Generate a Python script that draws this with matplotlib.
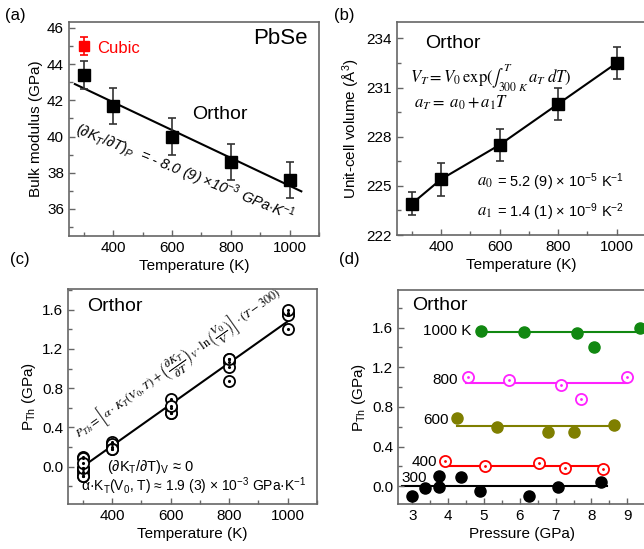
import matplotlib
matplotlib.use("Agg")
import matplotlib.pyplot as plt
from matplotlib.ticker import MultipleLocator

plt.rcParams['font.family'] = ['Liberation Sans', 'DejaVu Sans']
plt.rcParams['mathtext.fontset'] = 'custom'
plt.rcParams['mathtext.rm'] = 'Liberation Sans'
plt.rcParams['mathtext.it'] = 'Liberation Sans:italic'
plt.rcParams['mathtext.bf'] = 'Liberation Sans:bold'

# ---- data ----
temps = [300, 400, 600, 800, 1000]

# (a) bulk modulus
bulk = [43.4, 41.7, 40.0, 38.6, 37.6]
bulk_err = [0.8, 1.0, 1.0, 1.0, 1.0]
cubic_T = [300]
cubic_K = [45.0]
cubic_err = [0.5]
fit_a_T = [270, 1040]
fit_a_K = [42.9, 36.97]

# (b) unit-cell volume
volume = [223.9, 225.4, 227.5, 230.0, 232.5]
volume_err = [0.7, 1.0, 1.0, 1.0, 1.0]

# (d) thermal pressure vs pressure, per temperature
p300 = [3.0, 3.36, 3.75, 3.75, 4.37, 4.88, 6.25, 7.08, 8.27]
pth300 = [-0.10, -0.02, 0.10, -0.01, 0.09, -0.05, -0.10, -0.01, 0.04]
p400 = [3.92, 5.04, 6.53, 7.25, 8.32]
pth400 = [0.25, 0.20, 0.23, 0.185, 0.175]
p600 = [4.24, 5.37, 6.78, 7.50, 8.64]
pth600 = [0.69, 0.60, 0.55, 0.55, 0.615]
p800 = [4.55, 5.71, 7.16, 7.72, 9.0]
pth800 = [1.10, 1.07, 1.02, 0.875, 1.10]
p1000 = [4.91, 6.13, 7.61, 8.06, 9.35]
pth1000 = [1.565, 1.56, 1.55, 1.40, 1.60]

# horizontal average lines in (d): (x start, x end, level)
avg300 = (2.72, 8.44, 0.0)
avg400 = (3.85, 8.44, 0.205)
avg600 = (4.24, 8.64, 0.603)
avg800 = (4.50, 9.0, 1.044)
avg1000 = (4.91, 9.6, 1.556)

# (c) linear fit of P_Th vs T
fit_c_T = [300, 1000]
fit_c_P = [0.0, 1.48]

spine_col = '#666666'


def style_axes(ax):
    for s in ax.spines.values():
        s.set_color(spine_col)
        s.set_linewidth(1.2)
    ax.tick_params(which='both', direction='in', top=False, right=False,
                   color=spine_col, labelsize=11, width=1.0)
    ax.tick_params(which='major', length=4.5)
    ax.tick_params(which='minor', length=3)


fig = plt.figure(figsize=(6.44, 5.49), dpi=100)

# ---------- (a) ----------
ax = fig.add_axes([0.1071, 0.5701, 0.3882, 0.3898])
ax.plot(fit_a_T, fit_a_K, color='black', lw=1.5)
ax.errorbar(temps, bulk, yerr=bulk_err, fmt='s', color='black', ms=9,
            ecolor='#333333', elinewidth=1.2, capsize=3, capthick=1.2)
ax.errorbar(cubic_T, cubic_K, yerr=cubic_err, fmt='s', color='red', ms=7,
            ecolor='red', elinewidth=1.2, capsize=3, capthick=1.2)
ax.set_xlim(250, 1100)
ax.set_ylim(34.5, 46.33)
ax.xaxis.set_major_locator(MultipleLocator(200))
ax.xaxis.set_minor_locator(MultipleLocator(100))
ax.yaxis.set_major_locator(MultipleLocator(2))
ax.yaxis.set_minor_locator(MultipleLocator(1))
ax.set_xticks([400, 600, 800, 1000])
style_axes(ax)
ax.set_xlabel('Temperature (K)', fontsize=11, labelpad=3)
ax.set_ylabel('Bulk modulus (GPa)', fontsize=11, labelpad=3)
ax.text(345, 44.88, 'Cubic', color='red', fontsize=12, va='center')
ax.text(1060, 45.4, 'PbSe', fontsize=16, ha='right', va='center')
ax.text(762, 41.2, 'Orthor', fontsize=14, ha='center', va='center')
ax.text(268, 40.15, r'$(\partial K_T/\partial T)_P$  = - 8.0 (9) $\times$10$^{-3}$ GPa$\cdot$K$^{-1}$',
        fontsize=10.5, style='italic', rotation=-22, rotation_mode='anchor',
        ha='left', va='baseline')
fig.text(0.008, 0.972, '(a)', fontsize=12, va='center')

# ---------- (b) ----------
ax = fig.add_axes([0.6165, 0.5719, 0.3866, 0.388])
ax.errorbar(temps, volume, yerr=volume_err, fmt='s-', color='black', ms=9,
            lw=1.5, ecolor='#333333', elinewidth=1.2, capsize=3, capthick=1.2)
ax.set_xlim(250, 1100)
ax.set_ylim(222, 235)
ax.set_xticks([400, 600, 800, 1000])
ax.xaxis.set_minor_locator(MultipleLocator(100))
ax.yaxis.set_major_locator(MultipleLocator(3))
ax.yaxis.set_minor_locator(MultipleLocator(1.5))
style_axes(ax)
ax.set_xlabel('Temperature (K)', fontsize=11, labelpad=3)
ax.set_ylabel('Unit-cell volume (Å$^3$)', fontsize=11, labelpad=3)
ax.text(345, 233.7, 'Orthor', fontsize=14, va='center')
ax.text(294, 231.6, r'$V_T = V_0\,\exp(\int_{300\ K}^{T}\, a_T\; dT)$',
        fontsize=12, va='center', math_fontfamily='stix')
ax.text(308, 230.1, r'$a_T =\ a_0 + a_1T$', fontsize=12, va='center',
        math_fontfamily='stix')
ax.text(522, 225.2, r'$a_0$', fontsize=12, va='center', math_fontfamily='stix')
ax.text(592, 225.2, r'= 5.2 (9) $\times$ 10$^{-5}$ K$^{-1}$', fontsize=10.5, va='center')
ax.text(522, 223.4, r'$a_1$', fontsize=12, va='center', math_fontfamily='stix')
ax.text(592, 223.4, r'= 1.4 (1) $\times$ 10$^{-9}$ K$^{-2}$', fontsize=10.5, va='center')
fig.text(0.518, 0.972, '(b)', fontsize=12, va='center')

# ---------- (c) ----------
ax = fig.add_axes([0.1056, 0.082, 0.3866, 0.3916])
ax.plot(fit_c_T, fit_c_P, color='black', lw=1.5, zorder=1)
groups = [pth300, pth400, pth600, pth800, pth1000]
for T, vals in zip(temps, groups):
    ax.plot([T] * len(vals), vals, 'o', ms=8, mfc='white', mec='black',
            mew=1.3, zorder=2)
    ax.plot([T] * len(vals), vals, '.', ms=2.5, color='black', zorder=3)
ax.set_xlim(250, 1100)
ax.set_ylim(-0.38, 1.81)
ax.set_xticks([400, 600, 800, 1000])
ax.xaxis.set_minor_locator(MultipleLocator(100))
ax.yaxis.set_major_locator(MultipleLocator(0.4))
ax.yaxis.set_minor_locator(MultipleLocator(0.2))
ax.yaxis.set_major_formatter(plt.FormatStrFormatter('%.1f'))
style_axes(ax)
ax.set_xlabel('Temperature (K)', fontsize=11, labelpad=3)
ax.set_ylabel(r'P$_{\mathrm{Th}}$ (GPa)', fontsize=11, labelpad=3)
ax.text(315, 1.63, 'Orthor', fontsize=14, va='center')
ax.text(286, 0.29,
        r'$P_{Th} = \left[\alpha\cdot K_T(V_0,T) + \left(\dfrac{\partial K_T}{\partial T}\right)_V'
        r'\cdot\ln\left(\dfrac{V_0}{V}\right)\right]\cdot(T-300)$',
        fontsize=8.8, rotation=35.2, rotation_mode='anchor', ha='left',
        va='baseline', math_fontfamily='stix')
ax.text(383, 0.0, r'($\partial$K$_\mathrm{T}$/$\partial$T)$_\mathrm{V}$ ≈ 0',
        fontsize=10.5, va='center')
ax.text(296, -0.2, r'α·K$_\mathrm{T}$(V$_\mathrm{0}$, T) ≈ 1.9 (3) × 10$^{-3}$ GPa·K$^{-1}$',
        fontsize=10, va='center')
fig.text(0.015, 0.528, '(c)', fontsize=12, va='center')

# ---------- (d) ----------
ax = fig.add_axes([0.618, 0.082, 0.3866, 0.3898])
series = [
    (p300, pth300, avg300, 'black', True),
    (p400, pth400, avg400, 'red', False),
    (p600, pth600, avg600, '#7f7f00', True),
    (p800, pth800, avg800, '#ff22ff', False),
    (p1000, pth1000, avg1000, '#118811', True),
]
for px, py, avg, col, filled in series:
    ax.plot([avg[0], avg[1]], [avg[2], avg[2]], color=col, lw=1.5, zorder=1)
    if filled:
        ax.plot(px, py, 'o', ms=8, color=col, zorder=2)
    else:
        ax.plot(px, py, 'o', ms=8, mfc='white', mec=col, mew=1.3, zorder=2)
        ax.plot(px, py, '.', ms=2, color=col, zorder=3)
ax.set_xlim(2.6, 9.55)
ax.set_ylim(-0.18, 1.98)
ax.xaxis.set_major_locator(MultipleLocator(1))
ax.xaxis.set_minor_locator(MultipleLocator(0.5))
ax.yaxis.set_major_locator(MultipleLocator(0.4))
ax.yaxis.set_minor_locator(MultipleLocator(0.2))
ax.yaxis.set_major_formatter(plt.FormatStrFormatter('%.1f'))
style_axes(ax)
ax.set_xlabel('Pressure (GPa)', fontsize=11, labelpad=3)
ax.set_ylabel(r'P$_{\mathrm{Th}}$ (GPa)', fontsize=11, labelpad=3)
ax.text(3.0, 1.82, 'Orthor', fontsize=14, va='center')
ax.text(4.65, 1.57, '1000 K', fontsize=11, ha='right', va='center')
ax.text(4.27, 1.07, '800', fontsize=11, ha='right', va='center')
ax.text(4.03, 0.67, '600', fontsize=11, ha='right', va='center')
ax.text(3.7, 0.24, '400', fontsize=11, ha='right', va='center')
ax.text(3.42, 0.08, '300', fontsize=11, ha='right', va='center')
fig.text(0.527, 0.528, '(d)', fontsize=12, va='center')

fig.savefig('out.png', dpi=100)
